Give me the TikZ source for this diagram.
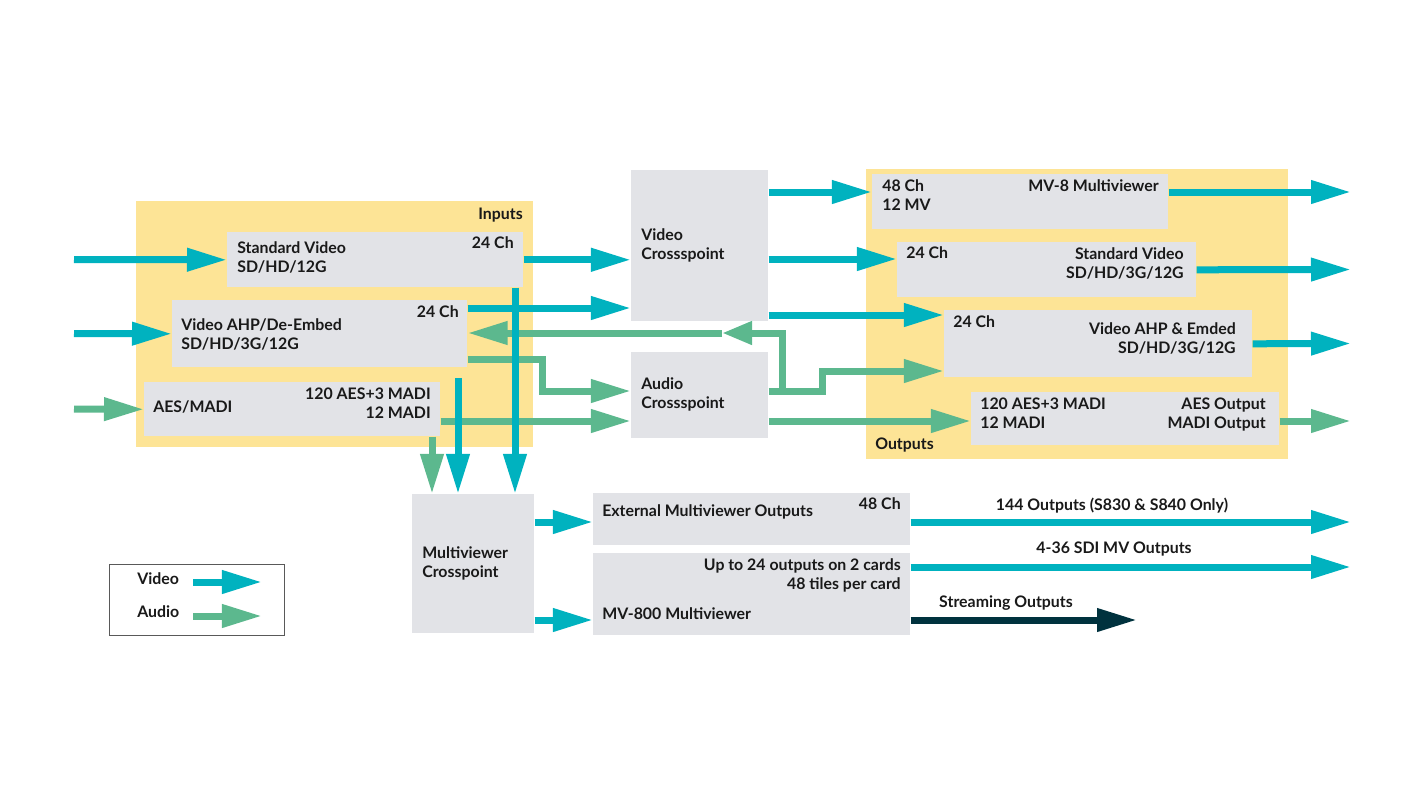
\documentclass[tikz,border=0pt]{standalone}
\usepackage{fontspec}
\setmainfont{Lato}
\usetikzlibrary{arrows.meta,positioning}
\definecolor{vidcol}{RGB}{0,178,191}
\definecolor{audcol}{RGB}{92,184,142}
\definecolor{strcol}{RGB}{0,50,62}
\definecolor{yelcol}{RGB}{253,228,150}
\definecolor{boxcol}{RGB}{226,227,231}
\definecolor{txtcol}{RGB}{25,25,25}
\begin{document}
\begin{tikzpicture}[x=0.025cm,y=-0.025cm,
  area/.style 2 args={fill=yelcol,inner sep=0,anchor=north west,minimum width=#1*0.025cm,minimum height=#2*0.025cm},
  blk/.style 2 args={fill=boxcol,inner sep=0,anchor=north west,minimum width=#1*0.025cm,minimum height=#2*0.025cm},
  lbl/.style={font=\bfseries\fontsize{11.3}{13.5}\selectfont,text=txtcol,inner sep=0},
  lw/.style={lbl,anchor=base west,align=left},
  le/.style={lbl,anchor=base east,align=right},
  vid/.style={draw=vidcol,line width=0.175cm,-{Triangle[length=1cm,width=0.55cm]}},
  aud/.style={draw=audcol,line width=0.175cm,-{Triangle[length=1cm,width=0.55cm]}},
  strm/.style={draw=strcol,line width=0.175cm,-{Triangle[length=1cm,width=0.55cm]}}]
\useasboundingbox (0,0) rectangle (1422,798);

% input and output areas
\node[area={397}{246}] (inputs) at (136,201) {};
\node[area={422}{290}] (outputs) at (866,169) {};
\node[le] (inputs-t) at (523,219) {Inputs};
\node[lw] (outputs-t) at (875,449) {Outputs};

% input cards (two-line labels sit on their last baseline)
\node[blk={296}{55}] (stdin) at (227,232) {};
\node[blk={295}{67}] (vahpin) at (172,300) {};
\node[blk={296}{54}] (aesin) at (144,382) {};
\node[lw] (stdin-t) at (237,272) {Standard Video\\SD/HD/12G};
\node[le] (stdin-c) at (514,248) {24 Ch};
\node[lw] (vahpin-t) at (181,349) {Video AHP/De-Embed\\SD/HD/3G/12G};
\node[le] (vahpin-c) at (459,317) {24 Ch};
\node[lw] (aesin-t) at (153,412) {AES/MADI};
\node[le] (aesin-c) at (431,418) {120 AES+3 MADI\\12 MADI};

% crosspoints
\node[blk={137}{151}] (vcp) at (631,170) {};
\node[blk={137}{86}] (acp) at (631,352) {};
\node[blk={122}{139}] (mvcp) at (412,494) {};
\node[lw] (vcp-t) at (641,259) {Video\\Crossspoint};
\node[lw] (acp-t) at (641,408) {Audio\\Crossspoint};
\node[lw] (mvcp-t) at (422,577) {Multiviewer\\Crosspoint};

% output cards
\node[blk={296}{55}] (mv8) at (872,174) {};
\node[blk={299}{55}] (stdout) at (897,242) {};
\node[blk={308}{67}] (vahpout) at (944,310) {};
\node[blk={308}{53}] (aesout) at (971,392) {};
\node[lw] (mv8-c) at (882,210) {48 Ch\\12 MV};
\node[le] (mv8-t) at (1159,191) {MV-8 Multiviewer};
\node[lw] (stdout-c) at (906,258) {24 Ch};
\node[le] (stdout-t) at (1184,278) {Standard Video\\SD/HD/3G/12G};
\node[lw] (vahpout-c) at (953,327) {24 Ch};
\node[le] (vahpout-t) at (1236,353) {Video AHP \& Emded\\SD/HD/3G/12G};
\node[lw] (aesout-c) at (980,428) {120 AES+3 MADI\\12 MADI};
\node[le] (aesout-t) at (1266,428) {AES Output\\MADI Output};

% multiviewer cards
\node[blk={317}{52}] (extmv) at (593,493) {};
\node[blk={317}{82}] (mv800) at (593,553) {};
\node[lw] (extmv-t) at (602,516) {External Multiviewer Outputs};
\node[le] (extmv-c) at (901,509) {48 Ch};
\node[le] (mv800-c) at (901,589) {Up to 24 outputs on 2 cards\\48 tiles per card};
\node[lw] (mv800-t) at (602,619) {MV-800 Multiviewer};

% legend
\node[draw=black!65,line width=0.7pt,inner sep=0,anchor=north west,minimum width=4.375cm,minimum height=1.775cm] (legend) at (109,564) {};
\node[lw] (leg-v) at (137,584) {Video};
\node[lw] (leg-a) at (137,617) {Audio};

% free ends
\coordinate (srcV1) at (74,259.5);
\coordinate (srcV2) at (74,333.5);
\coordinate (srcA) at (74,409);
\coordinate (vtap) at (458,378);
\coordinate (bendA) at (542,391);
\coordinate (splitA) at (782,391);
\coordinate (midA) at (722,333);
\coordinate (stepA) at (822,371);
\coordinate (outV1) at (1351,192);
\coordinate (outV2) at (1351,269.5);
\coordinate (outV3) at (1351,343.5);
\coordinate (outA) at (1351,421);
\coordinate (outV4) at (1351,522);
\coordinate (outV5) at (1351,567);
\coordinate (outS) at (1137,620);
\coordinate (legV1) at (193,582);
\coordinate (legV2) at (262,582);
\coordinate (legA1) at (193,616);
\coordinate (legA2) at (262,616);

% audio paths
\draw[aud] (srcA) -- (aesin.west);
\draw[aud] (aesin.east |- 0,421) -- (acp.west |- 0,421);
\draw[aud] (vahpin.east |- 0,359) -| (bendA) -- (acp.west |- bendA);
\draw[aud] (acp.east |- 0,391) -| (stepA) -- (vahpout.west |- stepA);
\draw[audcol,line width=0.175cm,-{Triangle[length=0.75cm,width=0.55cm]}] (splitA) |- (midA);
\draw[aud] (midA) -- (vahpin.east |- midA);
\draw[aud] (acp.east |- 0,421) -- (aesout.west |- 0,421);
\draw[aud] (aesout.east |- 0,421) -- (outA);
\draw[aud] (aesin.south -| 432,0) -- (mvcp.north -| 432,0);

% video paths
\draw[vid] (srcV1) -- (stdin.west);
\draw[vid] (srcV2) -- (vahpin.west);
\draw[vid] (stdin.east) -- (vcp.west |- stdin.east);
\draw[vid] (vahpin.east |- 0,308) -- (vcp.west |- 0,308);
\draw[vid] (stdin.south -| 515,0) -- (mvcp.north -| 515,0);
\draw[vid] (vtap) -- (mvcp.north -| vtap);
\draw[vid] (vcp.east |- 0,192) -- (mv8.west |- 0,192);
\draw[vid] (vcp.east |- 0,259) -- (stdout.west |- 0,259);
\draw[vid] (vcp.east |- 0,315) -- (vahpout.west |- 0,315);
\draw[vid] (mv8.east |- outV1) -- (outV1);
\draw[vid] (stdout.east) -- (outV2);
\draw[vid] (vahpout.east) -- (outV3);
\draw[vid] (mvcp.east |- 0,522) -- (extmv.west |- 0,522);
\draw[vid] (mvcp.east |- 0,620) -- (mv800.west |- 0,620);
\draw[vid] (extmv.east |- outV4) -- (outV4);
\draw[vid] (mv800.east |- outV5) -- (outV5);
\draw[strm] (mv800.east |- outS) -- (outS);
\node[lbl,anchor=base] (outV4-t) at (1112,510) {144 Outputs (S830 \& S840 Only)};
\node[lbl,anchor=base] (outV5-t) at (1114,553) {4-36 SDI MV Outputs};
\node[lbl,anchor=base] (outS-t) at (1006,607) {Streaming Outputs};

% legend arrows
\draw[vid] (legV1) -- (legV2);
\draw[aud] (legA1) -- (legA2);
\end{tikzpicture}
\end{document}
